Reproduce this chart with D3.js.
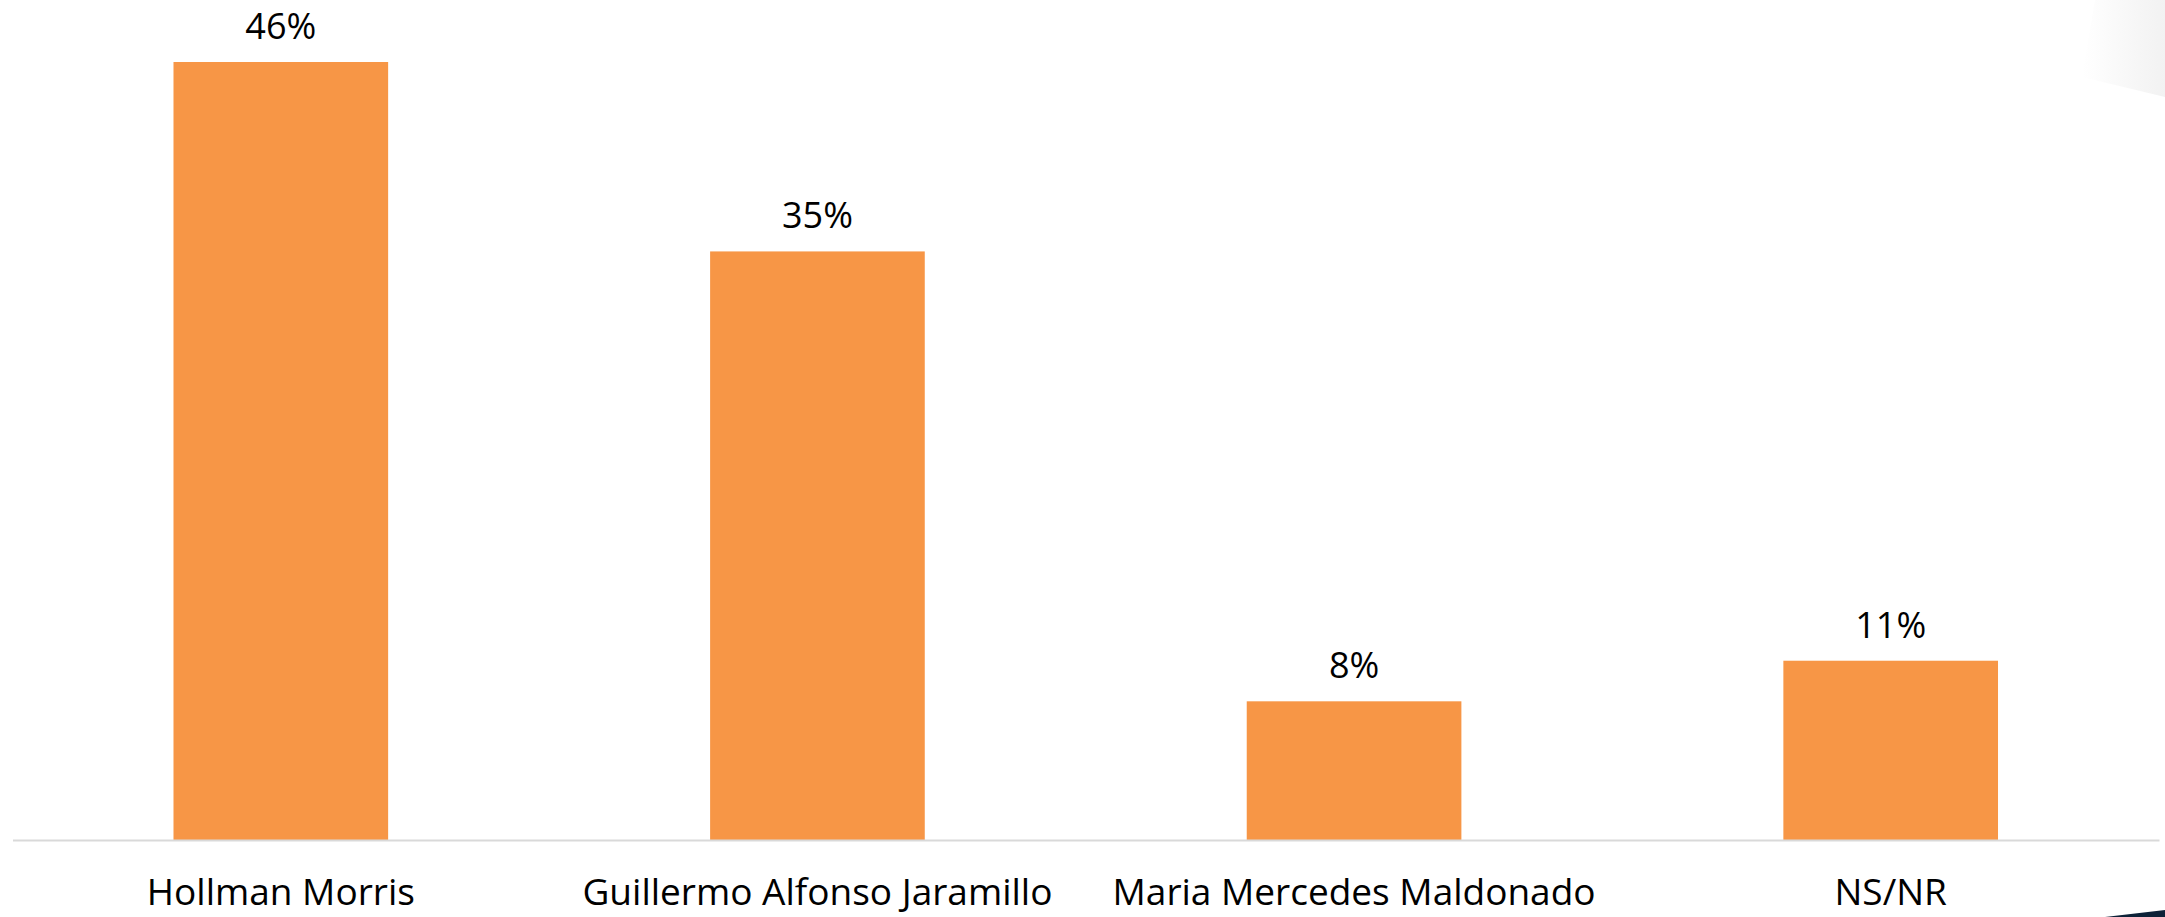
<!DOCTYPE html>
<html>
<head>
<meta charset="utf-8">
<script src="https://cdn.jsdelivr.net/npm/d3@7"></script>
<style>
  html, body { margin: 0; padding: 0; background: #fff; }
  svg { display: block; }
</style>
</head>
<body>
<svg id="chart"></svg>
<script>
var candidates = ["Hollman Morris", "Guillermo Alfonso Jaramillo", "Maria Mercedes Maldonado", "NS/NR"];
var shares = [46.0, 34.8, 8.2, 10.6];

var width = 2165, height = 917;
var svg = d3.select("#chart").attr("width", width).attr("height", height);

// decorative corners of the slide
var grad = svg.append("defs").append("linearGradient")
    .attr("id", "corner_grad").attr("x1", "0").attr("y1", "0").attr("x2", "1").attr("y2", "0");
grad.append("stop").attr("offset", "0").attr("stop-color", "#ffffff");
grad.append("stop").attr("offset", "1").attr("stop-color", "#f2f2f2");
svg.append("path")
    .attr("d", "M2095,0 L2165,0 L2165,97 L2082,77 Z")
    .attr("fill", "url(#corner_grad)");
svg.append("path")
    .attr("d", "M2105,917 L2165,910 L2165,917 Z")
    .attr("fill", "#0d2238");

var x = d3.scaleBand()
    .domain(candidates)
    .range([12.5, 2159])
    .paddingInner(0.6)
    .paddingOuter(0.3);

var y = d3.scaleLinear()
    .domain([0, d3.max(shares)])
    .range([840, 62]);

var data = candidates.map(function(c, i){ return {name: c, value: shares[i]}; });

svg.selectAll("rect.bar")
    .data(data)
    .enter()
    .append("rect")
    .attr("class", "bar")
    .attr("x", d => x(d.name))
    .attr("y", d => y(d.value))
    .attr("width", x.bandwidth())
    .attr("height", d => y(0) - y(d.value))
    .attr("fill", "#f79646");

svg.selectAll("text.value")
    .data(data)
    .enter()
    .append("text")
    .attr("class", "value")
    .attr("x", d => x(d.name) + x.bandwidth() / 2)
    .attr("y", d => y(d.value) - 23)
    .attr("text-anchor", "middle")
    .style("font-family", "'Open Sans', sans-serif")
    .style("font-size", "36px")
    .style("fill", "#000")
    .text(d => Math.round(d.value) + "%");

var axis = svg.append("g")
    .attr("transform", "translate(0," + y(0) + ")")
    .call(d3.axisBottom(x).tickSize(0));
axis.select(".domain")
    .attr("stroke", "#d9d9d9")
    .attr("stroke-width", 2);
axis.selectAll(".tick text")
    .attr("y", 65)
    .attr("dy", null)
    .style("font-family", "'Open Sans', sans-serif")
    .style("font-size", "37px")
    .style("fill", "#000");
</script>
</body>
</html>
